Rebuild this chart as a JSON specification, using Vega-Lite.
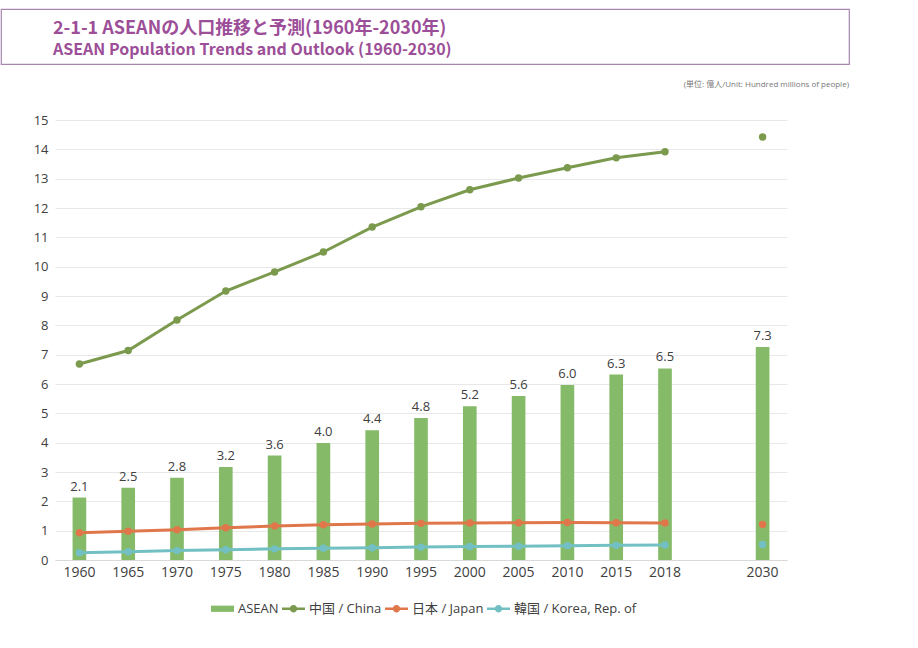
{
  "$schema": "https://vega.github.io/schema/vega-lite/v6.json",
  "padding": {"left": 0, "top": 8, "right": 0, "bottom": 0},
  "background": "white",
  "spacing": 16,
  "config": {
    "view": {"stroke": null},
    "font": "Open Sans, Noto Sans CJK JP",
    "legend": {"symbolStrokeWidth": 0}
  },
  "datasets": {
    "blank": [{"t": ""}],
    "pop": [
      {"year": "1960", "series": "ASEAN", "value": 2.13},
      {"year": "1965", "series": "ASEAN", "value": 2.46},
      {"year": "1970", "series": "ASEAN", "value": 2.80},
      {"year": "1975", "series": "ASEAN", "value": 3.17},
      {"year": "1980", "series": "ASEAN", "value": 3.56},
      {"year": "1985", "series": "ASEAN", "value": 3.99},
      {"year": "1990", "series": "ASEAN", "value": 4.42},
      {"year": "1995", "series": "ASEAN", "value": 4.84},
      {"year": "2000", "series": "ASEAN", "value": 5.24},
      {"year": "2005", "series": "ASEAN", "value": 5.59},
      {"year": "2010", "series": "ASEAN", "value": 5.97},
      {"year": "2015", "series": "ASEAN", "value": 6.32},
      {"year": "2018", "series": "ASEAN", "value": 6.53},
      {"year": "2030", "series": "ASEAN", "value": 7.26},
      {"year": "1960", "series": "中国 / China", "value": 6.68},
      {"year": "1965", "series": "中国 / China", "value": 7.14},
      {"year": "1970", "series": "中国 / China", "value": 8.18},
      {"year": "1975", "series": "中国 / China", "value": 9.17},
      {"year": "1980", "series": "中国 / China", "value": 9.82},
      {"year": "1985", "series": "中国 / China", "value": 10.5},
      {"year": "1990", "series": "中国 / China", "value": 11.35},
      {"year": "1995", "series": "中国 / China", "value": 12.04},
      {"year": "2000", "series": "中国 / China", "value": 12.62},
      {"year": "2005", "series": "中国 / China", "value": 13.02},
      {"year": "2010", "series": "中国 / China", "value": 13.37},
      {"year": "2015", "series": "中国 / China", "value": 13.71},
      {"year": "2018", "series": "中国 / China", "value": 13.92},
      {"year": "2030", "series": "中国 / China", "value": 14.42},
      {"year": "1960", "series": "日本 / Japan", "value": 0.93},
      {"year": "1965", "series": "日本 / Japan", "value": 0.98},
      {"year": "1970", "series": "日本 / Japan", "value": 1.03},
      {"year": "1975", "series": "日本 / Japan", "value": 1.10},
      {"year": "1980", "series": "日本 / Japan", "value": 1.16},
      {"year": "1985", "series": "日本 / Japan", "value": 1.20},
      {"year": "1990", "series": "日本 / Japan", "value": 1.23},
      {"year": "1995", "series": "日本 / Japan", "value": 1.25},
      {"year": "2000", "series": "日本 / Japan", "value": 1.26},
      {"year": "2005", "series": "日本 / Japan", "value": 1.27},
      {"year": "2010", "series": "日本 / Japan", "value": 1.28},
      {"year": "2015", "series": "日本 / Japan", "value": 1.27},
      {"year": "2018", "series": "日本 / Japan", "value": 1.26},
      {"year": "2030", "series": "日本 / Japan", "value": 1.21},
      {"year": "1960", "series": "韓国 / Korea, Rep. of", "value": 0.25},
      {"year": "1965", "series": "韓国 / Korea, Rep. of", "value": 0.28},
      {"year": "1970", "series": "韓国 / Korea, Rep. of", "value": 0.32},
      {"year": "1975", "series": "韓国 / Korea, Rep. of", "value": 0.35},
      {"year": "1980", "series": "韓国 / Korea, Rep. of", "value": 0.38},
      {"year": "1985", "series": "韓国 / Korea, Rep. of", "value": 0.40},
      {"year": "1990", "series": "韓国 / Korea, Rep. of", "value": 0.42},
      {"year": "1995", "series": "韓国 / Korea, Rep. of", "value": 0.44},
      {"year": "2000", "series": "韓国 / Korea, Rep. of", "value": 0.46},
      {"year": "2005", "series": "韓国 / Korea, Rep. of", "value": 0.47},
      {"year": "2010", "series": "韓国 / Korea, Rep. of", "value": 0.49},
      {"year": "2015", "series": "韓国 / Korea, Rep. of", "value": 0.50},
      {"year": "2018", "series": "韓国 / Korea, Rep. of", "value": 0.51},
      {"year": "2030", "series": "韓国 / Korea, Rep. of", "value": 0.53}
    ]
  },
  "vconcat": [
    {
      "width": 848,
      "height": 55,
      "view": {"stroke": "#a886ae", "strokeWidth": 1.2},
      "data": {"name": "blank"},
      "mark": {"type": "text"},
      "encoding": {"text": {"field": "t"}},
      "title": {
        "text": "2-1-1 ASEANの人口推移と予測(1960年-2030年)",
        "subtitle": "ASEAN Population Trends and Outlook (1960-2030)",
        "anchor": "start",
        "dx": 52,
        "offset": -49,
        "font": "Noto Sans CJK JP",
        "fontSize": 18,
        "fontWeight": "bold",
        "color": "#9c4f98",
        "subtitleFont": "Noto Sans CJK JP",
        "subtitleFontSize": 16,
        "subtitleFontWeight": "bold",
        "subtitleColor": "#9c4f98",
        "subtitlePadding": 4
      }
    },
    {
      "spacing": 0,
      "hconcat": [
        {
          "width": 1,
          "height": 10,
          "data": {"name": "blank"},
          "mark": {"type": "text"},
          "encoding": {"text": {"field": "t"}}
        },
        {
          "width": 732,
          "height": 440,
          "data": {"name": "pop"},
          "title": {
            "text": "(単位: 億人/Unit: Hundred millions of people)",
            "anchor": "end",
            "dx": 62,
            "offset": 25,
            "fontSize": 8,
            "fontWeight": "normal",
            "color": "#777777"
          },
          "encoding": {
            "x": {
              "field": "year",
              "type": "nominal",
              "sort": null,
              "scale": {
                "domain": ["1960","1965","1970","1975","1980","1985","1990","1995","2000","2005","2010","2015","2018","gap","2030"],
                "paddingInner": 0.72,
                "paddingOuter": 0.36
              },
              "axis": {
                "title": null,
                "labelAngle": 0,
                "labelFontSize": 14,
                "labelColor": "#404040",
                "ticks": false,
                "domainColor": "#d9d9d9",
                "labelPadding": 5,
                "labelExpr": "datum.value == 'gap' ? '' : datum.value"
              }
            },
            "y": {
              "field": "value",
              "type": "quantitative",
              "scale": {"domain": [0, 15], "nice": false, "zero": true},
              "axis": {
                "title": null,
                "values": [0,1,2,3,4,5,6,7,8,9,10,11,12,13,14,15],
                "domain": false,
                "ticks": false,
                "labelPadding": 7,
                "labelFontSize": 13,
                "labelColor": "#404040",
                "gridColor": "#e8e8e8",
                "minExtent": 53
              }
            }
          },
          "layer": [
            {
              "transform": [{"filter": "datum.series == 'ASEAN'"}],
              "mark": {"type": "bar"},
              "encoding": {
                "color": {
                  "field": "series",
                  "type": "nominal",
                  "scale": {
                    "domain": ["ASEAN", "中国 / China", "日本 / Japan", "韓国 / Korea, Rep. of"],
                    "range": ["#85bb68", "#7b9a4e", "#e0774a", "#73c0c4"]
                  },
                  "legend": {
                    "title": null,
                    "orient": "none",
                    "legendX": 210,
                    "legendY": 588,
                    "direction": "horizontal",
                    "columns": 4,
                    "symbolSize": 529,
                    "labelFontSize": 13,
                    "labelColor": "#404040",
                    "columnPadding": 3,
                    "labelOffset": 4,
                    "encode": {
                      "symbols": {
                        "update": {
                          "shape": {"signal": "datum.value === 'ASEAN' ? 'M-1,-0.27L1,-0.27L1,0.27L-1,0.27Z' : 'M-1,-0.1L1,-0.1L1,0.1L-1,0.1Z M-0.32,0A0.32,0.32 0 1,1 0.32,0A0.32,0.32 0 1,1 -0.32,0Z'"},
                          "fill": {"signal": "datum.value === 'ASEAN' ? '#85bb68' : datum.value === '中国 / China' ? '#7b9a4e' : datum.value === '日本 / Japan' ? '#e0774a' : '#73c0c4'"},
                          "fillOpacity": {"value": 1},
                          "opacity": {"value": 1},
                          "strokeWidth": {"value": 0}
                        }
                      }
                    }
                  }
                }
              }
            },
            {
              "transform": [{"filter": "datum.series == 'ASEAN'"}],
              "mark": {"type": "text", "baseline": "bottom", "dy": -4, "fontSize": 13, "color": "#404040"},
              "encoding": {
                "text": {"field": "value", "type": "quantitative", "format": ".1f"}
              }
            },
            {
              "transform": [{"filter": "datum.series != 'ASEAN' && datum.year != '2030'"}],
              "mark": {"type": "line", "strokeWidth": 3},
              "encoding": {
                "color": {"field": "series", "type": "nominal"}
              }
            },
            {
              "transform": [{"filter": "datum.series != 'ASEAN'"}],
              "mark": {"type": "circle", "size": 55, "opacity": 1},
              "encoding": {
                "color": {"field": "series", "type": "nominal"}
              }
            }
          ]
        }
      ]
    }
  ]
}
